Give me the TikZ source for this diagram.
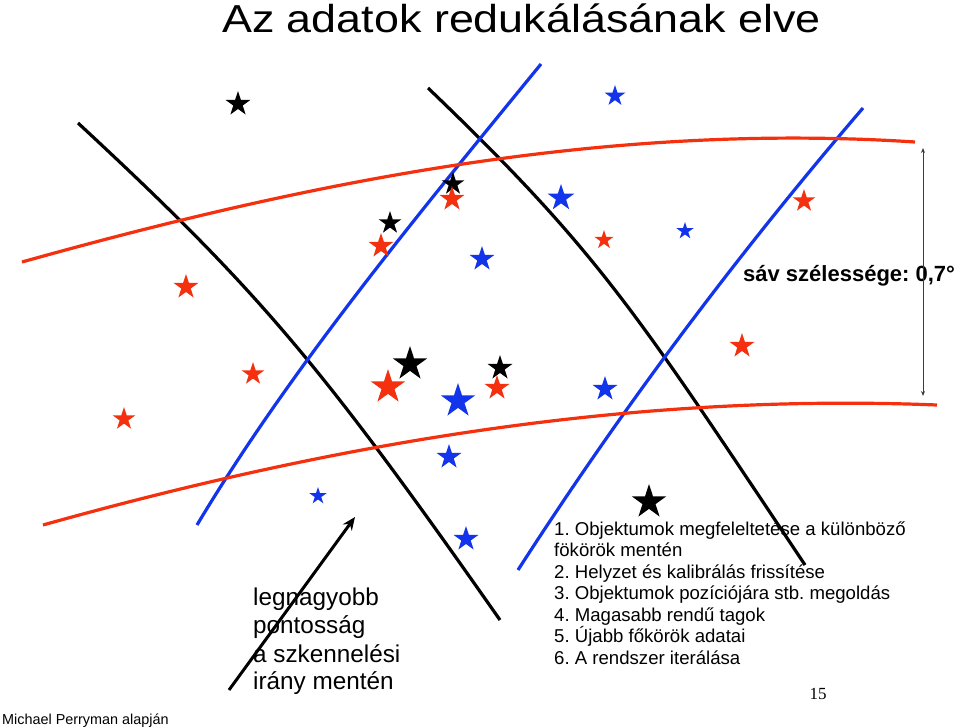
\documentclass[tikz,border=0pt]{standalone}
\usepackage{fontspec}
\usepackage{graphicx}
\setmainfont{Liberation Sans}
\newfontfamily\pagefont{Liberation Serif}
\usetikzlibrary{shapes.geometric,arrows.meta}
\definecolor{sred}{RGB}{245,48,14}
\definecolor{sblue}{RGB}{18,52,235}
\definecolor{agray}{RGB}{60,60,60}
\frenchspacing
\tikzset{
  starshape/.style={star, star points=5, star point ratio=2.618, inner sep=0pt, draw=none},
  blackstar/.style={starshape, fill=black},
  redstar/.style={starshape, fill=sred},
  bluestar/.style={starshape, fill=sblue},
  curveline/.style={line width=3.2pt},
  txt/.style={inner sep=0pt, anchor=base west},
  lefttxt/.style={txt, font=\fontsize{24.3}{28}\selectfont},
  listtxt/.style={txt, font=\fontsize{18.6}{21.5}\selectfont},
}
\begin{document}
\begin{tikzpicture}[x=1pt,y=-1pt]
\useasboundingbox[fill=white] (0,0) rectangle (959,727);
% great circles (black)
\draw[curveline, black] (78,123) .. controls (258,290) and (320,363) .. (500,620);
\draw[curveline, black] (428,88) .. controls (598,251) and (635,310) .. (805,565);
% blue
\draw[curveline, sblue] (541,64) .. controls (415,218) and (289,371) .. (197,525);
\draw[curveline, sblue] (863,108) .. controls (731,262) and (617,416) .. (518,570);
% red
\draw[curveline, sred] (22,262) .. controls (322,178) and (615,122.5) .. (915,142);
\draw[curveline, sred] (43,525) .. controls (343,441) and (637,393) .. (937,405);
% stars
\foreach \x/\y/\r [count=\i] in {238/104/13, 453/184/12, 390/223/12, 410/364/18, 500/368/13, 649/502/18}
  \node[blackstar, minimum size=2*\r] (bk\i) at (\x,\y) {};
\foreach \x/\y/\r [count=\i] in {452/199/13, 381/246/13, 186/287/13, 253/374/12, 124/419/12, 388/387/18, 497/388/13, 604/240/10, 804/201/12, 742/346/13}
  \node[redstar, minimum size=2*\r] (rd\i) at (\x,\y) {};
\foreach \x/\y/\r [count=\i] in {615/96/11, 561/198/14, 482/259/13, 685/231/9, 458/401/18, 449/457/13, 318/496/9, 605/389/13, 466/539/13}
  \node[bluestar, minimum size=2*\r] (bl\i) at (\x,\y) {};
% title
\node[txt, font=\fontsize{39}{44}\selectfont] (title) at (222,33) {\scalebox{1.15}[1]{Az adatok redukálásának elve}};
% band width
\node[txt, font=\fontsize{22}{26}\selectfont\bfseries] (band) at (743,282) {sáv szélessége: 0,7°};
\coordinate (vtop) at (923,148);
\coordinate (vbot) at (923,396);
\draw[agray, line width=0.9pt, {Stealth[length=5pt,width=4pt]}-{Stealth[length=5pt,width=4pt]}] (vtop) -- (vbot);
% left text
\node[lefttxt] (l1) at (253,605) {legnagyobb};
\node[lefttxt] (l2) at (253,633) {pontosság};
\node[lefttxt] (l3) at (253,662) {a szkennelési};
\node[lefttxt] (l4) at (253,689) {irány mentén};
\coordinate (as) at (229,690);
\coordinate (ae) at (355,517);
\draw[black, line width=3pt, -{Stealth[length=13pt,width=11pt]}] (as) -- (ae);
% list
\node[listtxt] (t1) at (554,535) {1. Objektumok megfeleltetése a különböző};
\node[listtxt] (t1b) at (554,556.5) {fökörök mentén};
\node[listtxt] (t2) at (554,578) {2. Helyzet és kalibrálás frissítése};
\node[listtxt] (t3) at (554,599.5) {3. Objektumok pozíciójára stb. megoldás};
\node[listtxt] (t4) at (554,621) {4. Magasabb rendű tagok};
\node[listtxt] (t5) at (554,642.5) {5. Újabb főkörök adatai};
\node[listtxt] (t6) at (554,664) {6. A rendszer iterálása};
% footer
\node[txt, font=\fontsize{14.4}{17}\selectfont] (credit) at (2,724) {Michael Perryman alapján};
\node[inner sep=0pt, anchor=base, font=\pagefont\fontsize{17}{20}\selectfont] (pnum) at (818,699) {15};
\end{tikzpicture}
\end{document}
